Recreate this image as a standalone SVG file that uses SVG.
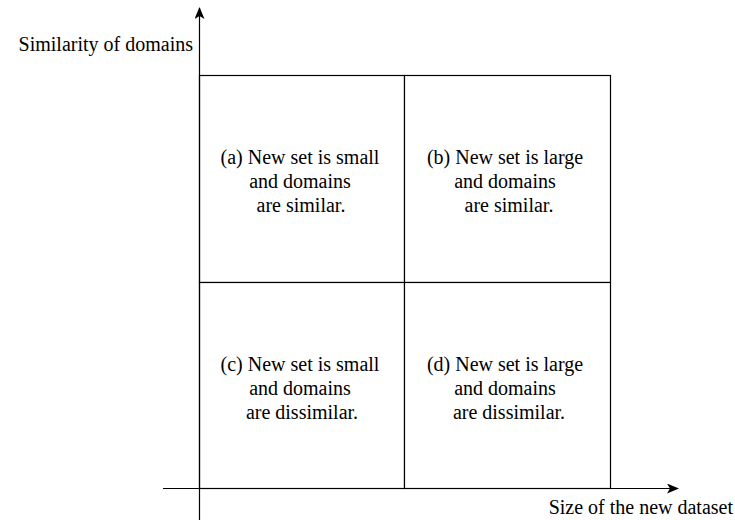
<svg xmlns="http://www.w3.org/2000/svg" width="735" height="520" viewBox="0 0 735 520">
  <style>
    .cell { fill: #ffffff; stroke: #000000; stroke-width: 1.2; }
    .axis { fill: none; stroke: #000000; stroke-width: 1.2; }
    .lbl { font-family: "Liberation Serif", "Times New Roman", serif; font-size: 20px; fill: #000000; }
    .c { text-anchor: middle; }
  </style>
  <defs>
    <marker id="arrow" viewBox="0 0 12 10" refX="11" refY="5" markerWidth="12" markerHeight="10" markerUnits="userSpaceOnUse" orient="auto">
      <path d="M0,0 L12,5 L0,10 L3,5 Z" fill="#000000"/>
    </marker>
  </defs>
  <rect width="735" height="520" fill="#ffffff"/>

  <g id="cell-a">
    <rect class="cell" x="199.5" y="75.5" width="205" height="207"/>
    <text class="lbl c" x="300" y="164">(a) New set is small</text>
    <text class="lbl c" x="300" y="188">and domains</text>
    <text class="lbl c" x="301" y="212">are similar.</text>
  </g>
  <g id="cell-b">
    <rect class="cell" x="404.5" y="75.5" width="206" height="207"/>
    <text class="lbl c" x="505" y="164">(b) New set is large</text>
    <text class="lbl c" x="505" y="188">and domains</text>
    <text class="lbl c" x="509" y="212">are similar.</text>
  </g>
  <g id="cell-c">
    <rect class="cell" x="199.5" y="282.5" width="205" height="206"/>
    <text class="lbl c" x="300" y="371">(c) New set is small</text>
    <text class="lbl c" x="300" y="395">and domains</text>
    <text class="lbl c" x="302" y="419">are dissimilar.</text>
  </g>
  <g id="cell-d">
    <rect class="cell" x="404.5" y="282.5" width="206" height="206"/>
    <text class="lbl c" x="505" y="371">(d) New set is large</text>
    <text class="lbl c" x="505" y="395">and domains</text>
    <text class="lbl c" x="509" y="419">are dissimilar.</text>
  </g>

  <g id="connectors">
    <line class="axis" x1="199.5" y1="520" x2="199.5" y2="8" marker-end="url(#arrow)"/>
    <line class="axis" x1="163" y1="488.5" x2="678" y2="488.5" marker-end="url(#arrow)"/>
  </g>

  <g id="axis-labels">
    <text class="lbl" x="193" y="51" text-anchor="end">Similarity of domains</text>
    <text class="lbl" x="733" y="514" text-anchor="end">Size of the new dataset</text>
  </g>
</svg>
